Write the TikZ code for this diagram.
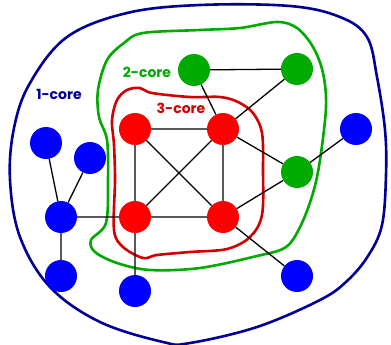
\documentclass[tikz,border=0pt]{standalone}
\usepackage{fontspec}
\setmainfont{Poppins}
\begin{document}
\begin{tikzpicture}[x=1pt,y=-1pt,
  vtx/.style={circle,inner sep=0pt,minimum size=32pt},
  bluev/.style={vtx,fill=blue},
  greenv/.style={vtx,fill=kgreen},
  redv/.style={vtx,fill=red},
  edge/.style={draw=black,line width=1.3pt},
  hull/.style={line width=2.6pt},
  lbl/.style={font=\bfseries\fontsize{14}{16}\selectfont}]
\definecolor{kgreen}{RGB}{0,170,0}
\definecolor{knavy}{RGB}{0,0,150}
\definecolor{kred}{RGB}{210,0,0}
\useasboundingbox (0,0) rectangle (391,345);
% 1-core hull
\draw[hull,knavy] plot[smooth cycle,tension=0.6] coordinates {
 (200,5) (290,6) (340,17) (367,37) (377,77) (385,130) (386,175) (382,225)
 (368,256) (347,281) (320,300) (257,327) (190,343) (163,342) (100,322)
 (50,287) (20,237) (10,180) (14,128) (30,83) (67,37) (127,13)};
% 2-core hull
\draw[hull,kgreen] plot[smooth cycle,tension=0.55] coordinates {
 (143,33) (200,30) (240,28) (277,22) (297,28) (313,47) (323,73) (326,107)
 (320,160) (313,193) (301,225) (286,247) (257,256) (200,268) (150,270)
 (117,263) (95,252) (91,240) (106,223) (108,180) (107,140) (99,117)
 (98,90) (107,60) (124,43)};
% 3-core hull
\draw[hull,kred] plot[smooth cycle,tension=0.55] coordinates {
 (140,88) (152,93) (190,97) (220,97) (238,102) (253,113) (262,133)
 (263,170) (262,215) (250,237) (227,249) (190,252) (157,255) (143,258)
 (123,247) (114,230) (115,180) (114,145) (112,120) (117,100) (127,90)};
% nodes
\node[redv] (r1) at (135,129) {};
\node[redv] (r2) at (223,129) {};
\node[redv] (r3) at (135,217) {};
\node[redv] (r4) at (223,217) {};
\node[greenv] (g1) at (194,70) {};
\node[greenv] (g2) at (297,69) {};
\node[greenv] (g3) at (297,172) {};
\node[bluev] (b1) at (46,143) {};
\node[bluev] (b2) at (90,158) {};
\node[bluev] (b3) at (61,217) {};
\node[bluev] (b4) at (61,276) {};
\node[bluev] (b5) at (135,291) {};
\node[bluev] (b6) at (356,129) {};
\node[bluev] (b7) at (297,276) {};
% edges
\path[edge] (b1)--(b3) (b2)--(b3) (b3)--(b4) (b3)--(r3) (r3)--(b5)
 (r1)--(r2) (r1)--(r3) (r1)--(r4) (r2)--(r3) (r2)--(r4) (r3)--(r4)
 (g1)--(g2) (g1)--(r2) (g2)--(r2) (r2)--(g3) (r4)--(g3) (g3)--(b6)
 (r4)--(b7);
% labels
\node[lbl,text=knavy] (l1) at (59,94) {1-core};
\node[lbl,text=kgreen] (l2) at (147,72) {2-core};
\node[lbl,text=kred] (l3) at (181,108) {3-core};
\end{tikzpicture}
\end{document}
